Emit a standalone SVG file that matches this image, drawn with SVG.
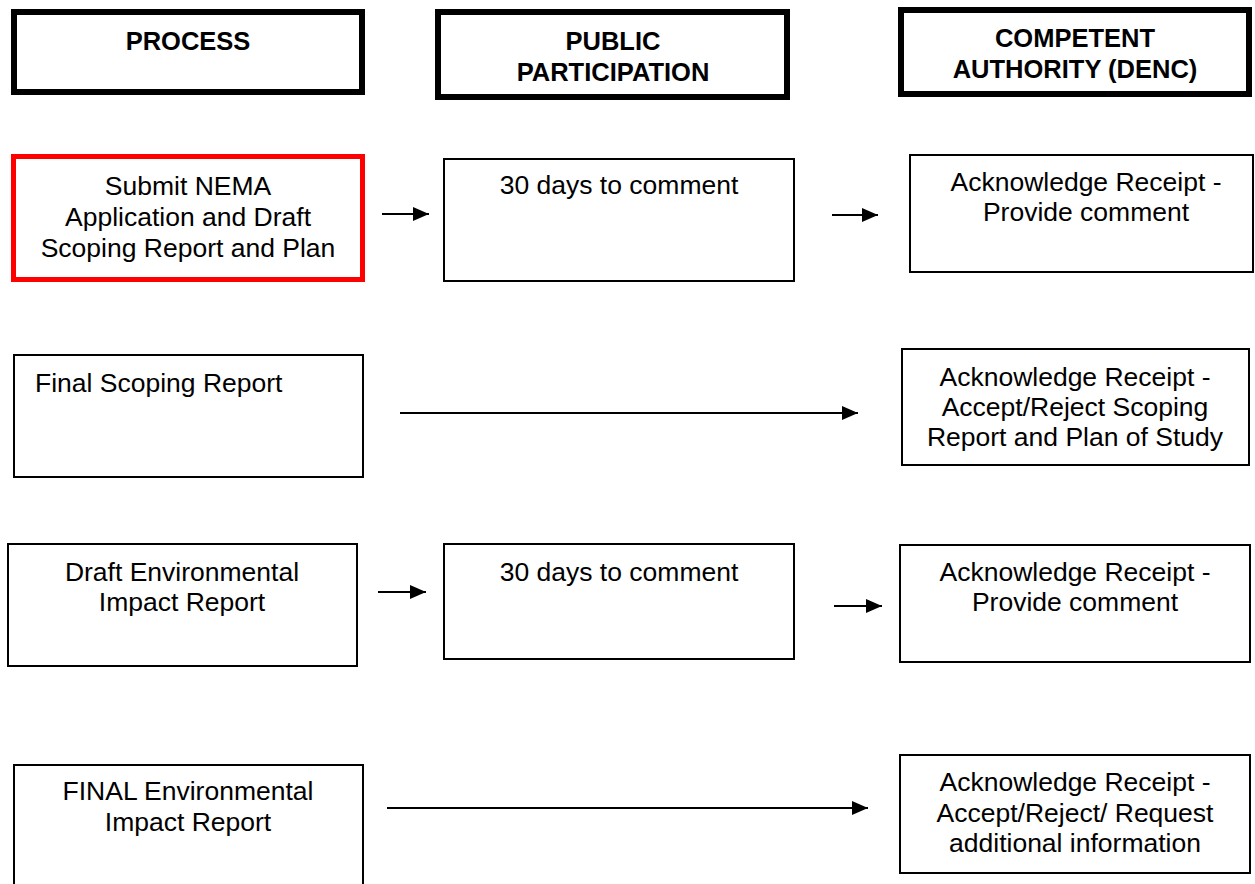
<svg xmlns="http://www.w3.org/2000/svg" width="1255" height="884" viewBox="0 0 1255 884">
<style>
.hdr{fill:#fff;stroke:#000;stroke-width:6}
.box{fill:#fff;stroke:#000;stroke-width:2}
.red{fill:#fff;stroke:#ff0000;stroke-width:5}
.ht{font-family:"Liberation Sans",Arial,sans-serif;font-weight:bold;font-size:25.5px;fill:#000;text-anchor:middle}
.t{font-family:"Liberation Sans",Arial,sans-serif;font-size:26.5px;fill:#000;text-anchor:middle}
.tl{font-family:"Liberation Sans",Arial,sans-serif;font-size:26.5px;fill:#000}
.c{stroke:#000;stroke-width:2;fill:none;marker-end:url(#ah)}
</style>
<defs>
<marker id="ah" markerUnits="userSpaceOnUse" markerWidth="16" markerHeight="14" refX="16" refY="7" orient="auto">
<path d="M0,0 L16,7 L0,14 Z" fill="#000"/>
</marker>
</defs>
<rect width="1255" height="884" fill="#fff"/>
<g id="h-process"><rect class="hdr" x="14" y="12" width="348" height="80"/><text class="ht" x="188" y="50">PROCESS</text></g>
<g id="h-public"><rect class="hdr" x="438" y="12" width="349" height="85"/><text class="ht" x="613" y="50">PUBLIC</text><text class="ht" x="613" y="81">PARTICIPATION</text></g>
<g id="h-ca"><rect class="hdr" x="901" y="10" width="348" height="84"/><text class="ht" x="1075" y="47">COMPETENT</text><text class="ht" x="1075" y="78">AUTHORITY (DENC)</text></g>

<g id="n-submit"><rect class="red" x="13.5" y="156.5" width="349" height="123"/><text class="t" x="188" y="195">Submit NEMA</text><text class="t" x="188" y="226">Application and Draft</text><text class="t" x="188" y="257">Scoping Report and Plan</text></g>
<g id="n-pp1"><rect class="box" x="444" y="159" width="350" height="122"/><text class="t" x="619" y="194">30 days to comment</text></g>
<g id="n-ca1"><rect class="box" x="910" y="155" width="343" height="117"/><text class="t" x="1086" y="191">Acknowledge Receipt -</text><text class="t" x="1086" y="221">Provide comment</text></g>

<g id="n-final-scoping"><rect class="box" x="14" y="355" width="349" height="122"/><text class="tl" x="35" y="392">Final Scoping Report</text></g>
<g id="n-ca2"><rect class="box" x="902" y="349" width="347" height="116"/><text class="t" x="1075" y="386">Acknowledge Receipt -</text><text class="t" x="1075" y="416">Accept/Reject Scoping</text><text class="t" x="1075" y="446">Report and Plan of Study</text></g>

<g id="n-draft-eir"><rect class="box" x="8" y="544" width="349" height="122"/><text class="t" x="182" y="581">Draft Environmental</text><text class="t" x="182" y="611">Impact Report</text></g>
<g id="n-pp3"><rect class="box" x="444" y="544" width="350" height="115"/><text class="t" x="619" y="581">30 days to comment</text></g>
<g id="n-ca3"><rect class="box" x="900" y="545" width="350" height="117"/><text class="t" x="1075" y="581">Acknowledge Receipt -</text><text class="t" x="1075" y="611">Provide comment</text></g>

<g id="n-final-eir"><rect class="box" x="14" y="765" width="349" height="140"/><text class="t" x="188" y="800">FINAL Environmental</text><text class="t" x="188" y="831">Impact Report</text></g>
<g id="n-ca4"><rect class="box" x="900" y="755" width="350" height="118"/><text class="t" x="1075" y="791">Acknowledge Receipt -</text><text class="t" x="1075" y="822">Accept/Reject/ Request</text><text class="t" x="1075" y="852">additional information</text></g>

<g id="connectors">
<line class="c" x1="382" y1="214" x2="429" y2="214"/>
<line class="c" x1="832" y1="215" x2="878" y2="215"/>
<line class="c" x1="400" y1="413" x2="858" y2="413"/>
<line class="c" x1="378" y1="592" x2="426" y2="592"/>
<line class="c" x1="834" y1="606" x2="882" y2="606"/>
<line class="c" x1="387" y1="808" x2="868" y2="808"/>
</g>
</svg>
